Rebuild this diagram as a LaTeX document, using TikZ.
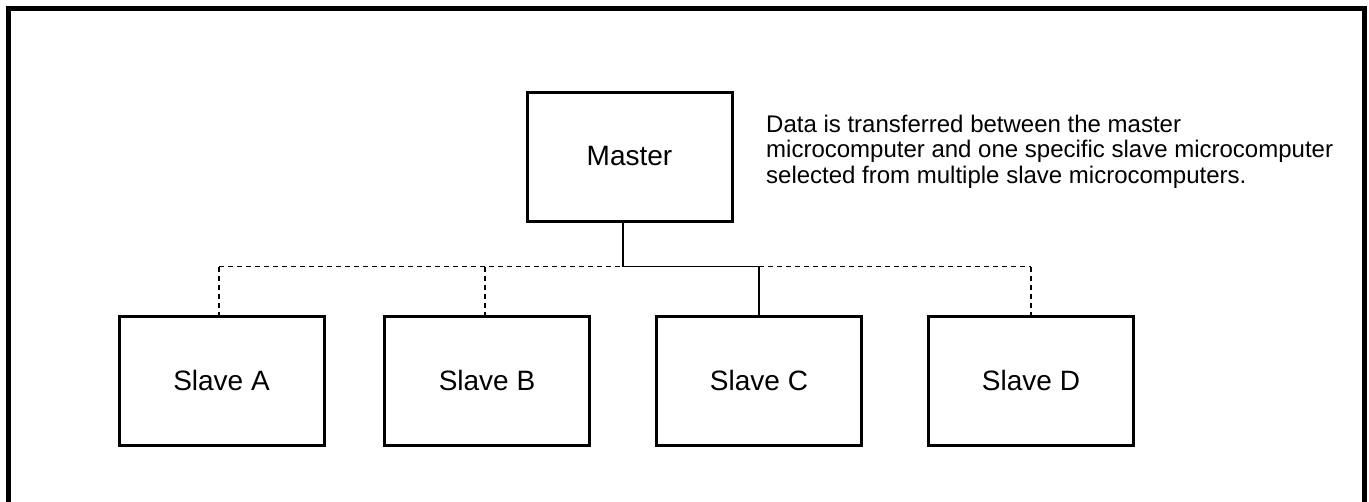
\documentclass[tikz,border=0pt]{standalone}
\usepackage{fontspec}
\setmainfont{Liberation Sans}
\begin{document}
\begin{tikzpicture}[x=1pt,y=-1pt,
  unitbox/.style={draw,line width=3pt,minimum width=205pt,minimum height=129pt,inner sep=0pt,font=\fontsize{28}{34}\selectfont},
  activeline/.style={line width=1.5pt},
  idleline/.style={line width=1.5pt,dash pattern=on 5pt off 4pt}]
\useasboundingbox (0,0) rectangle (1369,501);
\clip (0,0) rectangle (1369,501);
\draw[line width=5pt] (8.5,8.5) rectangle (1364.5,560);
\node[unitbox] (master) at (629.5,156.5) {Master};
\node[unitbox] (A) at (221.5,380.5) {Slave A};
\node[unitbox] (B) at (487,380.5) {Slave B};
\node[unitbox] (C) at (759,380.5) {Slave C};
\node[unitbox] (D) at (1031,380.5) {Slave D};
\node[anchor=north west,inner sep=0pt,align=left,font=\fontsize{24}{25.8}\selectfont] (note) at (766,114.5)
  {Data is transferred between the master\\microcomputer and one specific slave microcomputer\\selected from multiple slave microcomputers.};
\coordinate (mt) at ([xshift=-6.5pt]master.south);
\coordinate (atA) at ([xshift=-2.5pt]A.north);
\coordinate (atB) at ([xshift=-2pt]B.north);
\coordinate (busL) at ([yshift=48pt]atA);
\coordinate (busR) at ([yshift=48pt]D.north);
\draw[idleline] (busL) -- (busR);
\draw[idleline] (busL) -- (atA);
\draw[idleline] (busL -| atB) -- (atB);
\draw[idleline] (busR) -- (D.north);
\draw[activeline] (mt) -- (mt |- busL) -- (busL -| C.north) -- (C.north);
\end{tikzpicture}
\end{document}
